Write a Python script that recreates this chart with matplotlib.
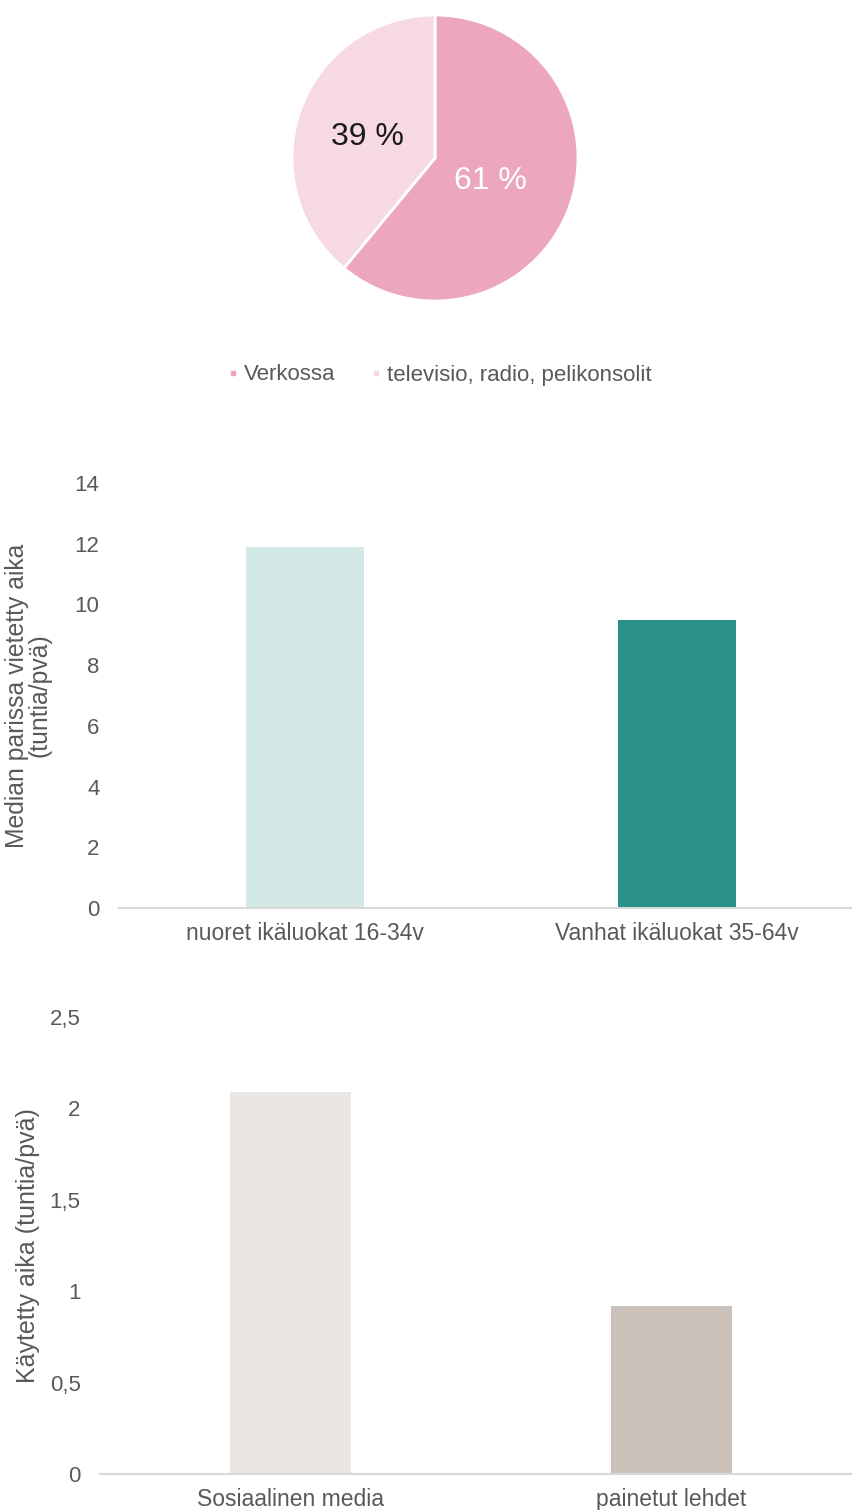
import matplotlib
matplotlib.use("Agg")
import matplotlib.pyplot as plt
from matplotlib.lines import Line2D
import numpy as np

plt.rcParams['font.family'] = ['Liberation Sans', 'DejaVu Sans']

# ---- data ----
pie_labels = ["Verkossa", "televisio, radio, pelikonsolit"]
pie_values = [61, 39]
pie_colors = ["#EDA6BF", "#F7D9E3"]

age_cats = ["nuoret ikäluokat 16-34v", "Vanhat ikäluokat 35-64v"]
age_values = [11.9, 9.5]
age_colors = ["#D4E8E6", "#2A9189"]
age_ylabel = "Median parissa vietetty aika\n(tuntia/pvä)"
age_ticks = [0, 2, 4, 6, 8, 10, 12, 14]

media_cats = ["Sosiaalinen media", "painetut lehdet"]
media_values = [2.09, 0.92]
media_colors = ["#EAE6E3", "#CAC2BA"]
media_ylabel = "Käytetty aika (tuntia/pvä)"
media_ticks = [0, 0.5, 1, 1.5, 2, 2.5]
media_ticklabels = ["0", "0,5", "1", "1,5", "2", "2,5"]

W, H = 853, 1510
fig = plt.figure(figsize=(W / 100, H / 100), dpi=100)
TXT = "#595959"
AXC = "#D9D9D9"

# ---- pie ----
cx, cy, r = 435, 158, 143
axp = fig.add_axes([(cx - r) / W, (H - cy - r) / H, 2 * r / W, 2 * r / H])
wedges, _ = axp.pie(pie_values, colors=pie_colors, startangle=90, counterclock=False,
                    radius=1.0, wedgeprops=dict(edgecolor="white", linewidth=2))
axp.set_xlim(-1, 1)
axp.set_ylim(-1, 1)
axp.set_aspect("equal")
axp.axis("off")
label_r = [0.41, 0.5]
label_c = ["white", "#1A1A1A"]
for w, v, rr, col in zip(wedges, pie_values, label_r, label_c):
    mid = np.deg2rad((w.theta1 + w.theta2) / 2)
    axp.text(rr * np.cos(mid), rr * np.sin(mid), f"{v} %", ha="center", va="center_baseline",
             fontsize=23, color=col)

handles = [Line2D([], [], marker="s", ls="", color=c, markersize=3.5) for c in pie_colors]
leg = fig.legend(handles, pie_labels, loc="center", bbox_to_anchor=(440 / W, 1 - 375 / H),
                 ncol=2, frameon=False, fontsize=16, handlelength=0.4, handletextpad=0.3,
                 columnspacing=1.6, labelcolor=TXT)


def style_bar_axis(ax):
    for s in ["top", "right", "left"]:
        ax.spines[s].set_visible(False)
    ax.spines["bottom"].set_color(AXC)
    ax.spines["bottom"].set_linewidth(1.5)
    ax.tick_params(axis="both", length=0, colors=TXT)
    ax.tick_params(axis="y", pad=14, labelsize=16)
    ax.tick_params(axis="x", pad=10, labelsize=16.5)
    ax.set_xlim(-0.5, 1.5)


# ---- bar chart 1 ----
ax1 = fig.add_axes([119 / W, (H - 908) / H, 744 / W, 425 / H])
ax1.bar(range(len(age_cats)), age_values, width=0.315, color=age_colors)
ax1.set_ylim(0, 14)
ax1.set_yticks(age_ticks)
ax1.set_xticks(range(len(age_cats)))
ax1.set_xticklabels(age_cats)
style_bar_axis(ax1)
ax1.set_ylabel(age_ylabel, fontsize=17.8, color=TXT, linespacing=0.92, va="center", ha="center")
ax1.yaxis.set_label_coords((28 - 119) / 744, 0.5)

# ---- bar chart 2 ----
ax2 = fig.add_axes([100 / W, (H - 1474) / H, 762 / W, 457 / H])
ax2.bar(range(len(media_cats)), media_values, width=0.315, color=media_colors)
ax2.set_ylim(0, 2.5)
ax2.set_yticks(media_ticks)
ax2.set_yticklabels(media_ticklabels)
ax2.set_xticks(range(len(media_cats)))
ax2.set_xticklabels(media_cats)
style_bar_axis(ax2)
ax2.set_ylabel(media_ylabel, fontsize=18, color=TXT, va="center", ha="center")
ax2.yaxis.set_label_coords((28 - 100) / 762, 0.5)

fig.savefig("out.png", dpi=100, facecolor="white")
